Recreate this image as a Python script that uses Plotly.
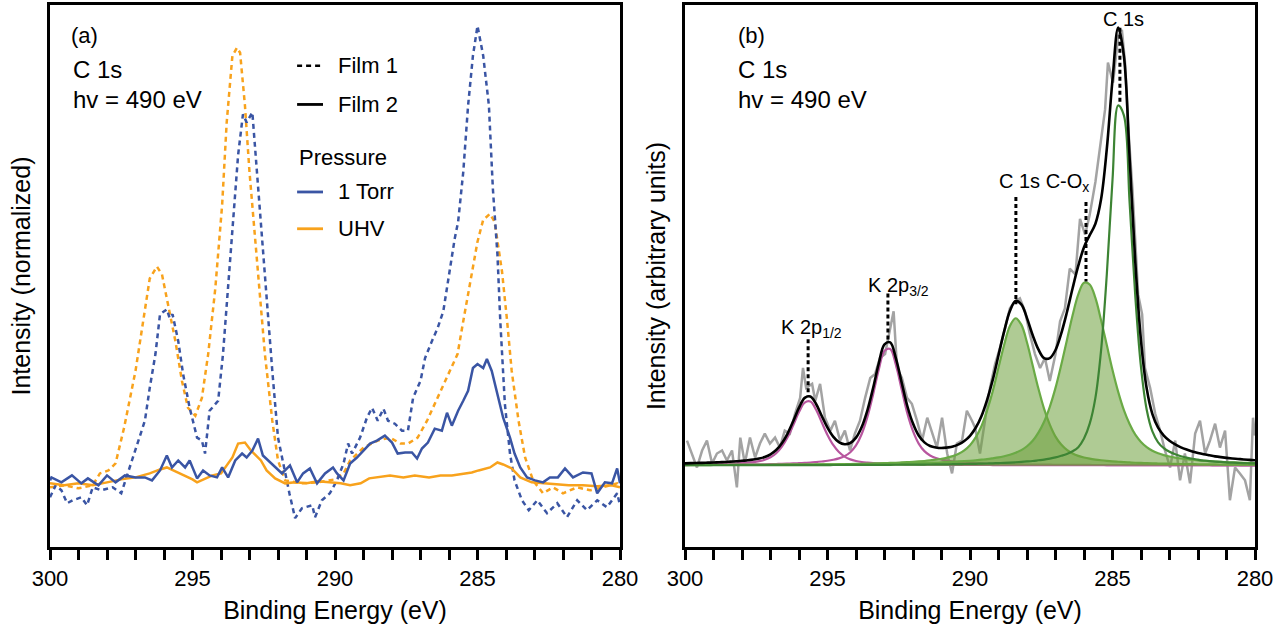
import plotly.graph_objects as go
from plotly.subplots import make_subplots

# ---------------- Panel (a) data: binding energy (eV) / intensity ----------------
film1_uhv_E = [300.0, 299.5, 299.0, 298.5, 298.25, 297.95, 297.7, 297.4, 297.0, 296.74, 296.5, 296.25,
               296.07, 295.86, 295.6, 295.37, 295.16, 294.9, 294.67, 294.45, 294.2, 293.96, 293.8, 293.6,
               293.44, 293.33, 293.16, 293.0, 292.8, 292.6, 292.46, 292.2, 292.0, 291.75, 291.2, 290.6,
               290.0, 289.7, 289.47, 289.0, 288.5, 288.07, 287.7, 287.44, 287.1, 286.77, 286.4, 286.07,
               285.7, 285.5, 285.26, 285.0, 284.8, 284.56, 284.4, 284.14, 283.96, 283.8, 283.56, 283.33,
               283.05, 282.7, 282.35, 282.0, 281.5, 281.05, 280.6, 280.1, 280.0]
film1_uhv_I = [58, 60, 57, 60, 72, 75, 82, 118, 175, 225, 268, 280,
               272, 242, 205, 165, 138, 130, 148, 192, 258, 342, 425, 492,
               500, 495, 442, 375, 308, 242, 192, 125, 85, 65, 62, 63,
               66, 72, 85, 98, 105, 108, 102, 102, 108, 125, 148, 168,
               192, 225, 265, 305, 327, 333, 325, 275, 225, 175, 125, 88,
               65, 52, 58, 52, 58, 55, 58, 62, 60]

film1_torr_E = [300.0, 299.8, 299.6, 299.4, 299.2, 298.9, 298.7, 298.5, 298.2, 297.8, 297.5, 297.2,
                296.9, 296.67, 296.5, 296.3, 296.14, 295.9, 295.8, 295.7, 295.5, 295.33, 295.1, 294.84,
                294.67, 294.56, 294.4, 294.1, 293.93, 293.75, 293.58, 293.4, 293.23, 293.1, 292.9, 292.74,
                292.56, 292.4, 292.2, 292.0, 291.8, 291.6, 291.4, 291.16, 290.8, 290.7, 290.46, 290.18,
                289.93, 289.7, 289.54, 289.4, 289.12, 288.88, 288.7, 288.5, 288.3, 288.14, 287.9, 287.65,
                287.44, 287.26, 287.0, 286.84, 286.6, 286.4, 286.2, 286.04, 285.8, 285.68, 285.5, 285.33,
                285.16, 285.0, 284.8, 284.6, 284.46, 284.3, 284.2, 284.04, 283.86, 283.7, 283.44, 283.2,
                282.9, 282.56, 282.2, 281.86, 281.5, 281.16, 280.8, 280.46, 280.1, 280.0]
film1_torr_I = [48, 60, 55, 42, 45, 48, 40, 58, 55, 58, 52, 78,
                105, 125, 158, 192, 232, 237, 228, 232, 205, 172, 138, 108,
                105, 92, 135, 145, 192, 258, 325, 392, 433, 425, 435, 375,
                308, 242, 175, 108, 78, 52, 27, 37, 40, 28, 45, 52,
                65, 82, 102, 92, 108, 128, 138, 125, 137, 125, 122, 115,
                115, 148, 165, 188, 205, 218, 235, 265, 308, 325, 375, 442,
                492, 522, 492, 442, 358, 292, 225, 142, 92, 65, 45, 35,
                45, 32, 42, 28, 45, 35, 45, 38, 52, 40]

film2_torr_E = [300.0, 299.95, 299.6, 299.23, 298.9, 298.67, 298.3, 298.0, 297.7, 297.37, 297.0, 296.67,
                296.42, 296.14, 295.9, 295.72, 295.5, 295.26, 295.1, 294.84, 294.63, 294.4, 294.14, 293.96,
                293.75, 293.5, 293.26, 293.1, 292.9, 292.7, 292.53, 292.35, 292.1, 291.86, 291.58, 291.33,
                291.12, 290.88, 290.63, 290.35, 290.07, 289.93, 289.7, 289.47, 289.23, 289.0, 288.77, 288.53,
                288.25, 288.0, 287.8, 287.54, 287.3, 287.12, 286.95, 286.74, 286.5, 286.25, 286.07, 285.9,
                285.68, 285.5, 285.33, 285.16, 285.0, 284.8, 284.67, 284.5, 284.3, 284.1, 283.86, 283.7,
                283.5, 283.26, 282.98, 282.7, 282.46, 282.18, 281.93, 281.65, 281.3, 281.0, 280.8, 280.53,
                280.28, 280.1, 280.0]
film2_torr_I = [65, 68, 63, 70, 62, 67, 60, 70, 63, 70, 68, 68,
                65, 75, 90, 78, 85, 78, 85, 67, 75, 70, 68, 78,
                68, 85, 92, 88, 95, 107, 90, 85, 78, 72, 80, 63,
                72, 77, 62, 72, 78, 72, 65, 82, 88, 95, 102, 105,
                110, 103, 92, 93, 93, 87, 97, 103, 117, 115, 133, 120,
                135, 145, 155, 178, 182, 178, 187, 175, 152, 128, 108, 92,
                78, 68, 65, 63, 68, 68, 77, 68, 73, 72, 52, 63,
                62, 77, 62]

film2_uhv_E = [300.0, 299.5, 299.0, 298.5, 298.0, 297.5, 297.0, 296.5, 296.14, 295.9, 295.6, 295.3,
               295.0, 294.84, 294.6, 294.3, 294.0, 293.75, 293.6, 293.4, 293.16, 292.95, 292.6, 292.4,
               292.1, 291.75, 291.4, 291.0, 290.6, 290.2, 289.8, 289.47, 289.1, 288.8, 288.5, 288.07,
               287.6, 287.2, 286.7, 286.3, 285.9, 285.5, 285.2, 284.96, 284.7, 284.56, 284.3, 284.1,
               283.8, 283.5, 283.1, 282.7, 282.3, 281.8, 281.3, 280.8, 280.3, 280.0]
film2_uhv_I = [62, 60, 62, 60, 63, 66, 68, 72, 76, 78, 74, 70,
               66, 63, 66, 70, 72, 82, 88, 102, 103, 95, 85, 75,
               67, 62, 63, 62, 64, 63, 62, 60, 62, 67, 68, 70,
               68, 70, 68, 70, 70, 72, 73, 75, 77, 78, 83, 81,
               77, 68, 63, 62, 61, 60, 60, 59, 60, 58]

# ---------------- Panel (b) data ----------------
raw_E = [299.93, 299.76, 299.58, 299.4, 299.23, 299.05, 298.88, 298.7, 298.53, 298.35, 298.18, 298.06,
         297.9, 297.72, 297.54, 297.37, 297.2, 297.02, 296.84, 296.67, 296.5, 296.32, 296.14, 295.96,
         295.86, 295.75, 295.54, 295.43, 295.26, 295.09, 294.9, 294.74, 294.56, 294.39, 294.21, 294.04,
         293.86, 293.68, 293.5, 293.33, 293.16, 292.98, 292.8, 292.68, 292.56, 292.39, 292.21, 292.04,
         291.86, 291.68, 291.5, 291.33, 291.16, 290.98, 290.8, 290.63, 290.46, 290.28, 290.11, 289.93,
         289.82, 289.65, 289.47, 289.3, 289.12, 288.95, 288.77, 288.6, 288.42, 288.25, 288.07, 287.9,
         287.72, 287.54, 287.37, 287.2, 287.0, 286.84, 286.67, 286.5, 286.3, 286.14, 285.96, 285.8,
         285.6, 285.44, 285.26, 285.16, 284.98, 284.8, 284.67, 284.56, 284.46, 284.3, 284.2, 284.1,
         283.96, 283.86, 283.68, 283.5, 283.33, 283.16, 282.98, 282.8, 282.63, 282.46, 282.28, 282.1,
         281.93, 281.75, 281.58, 281.4, 281.23, 281.05, 280.88, 280.7, 280.53, 280.35, 280.18, 280.07, 280.0]
raw_I = [25, 12, -2, 15, 25, 2, 12, 15, 5, 15, -22, 28,
         2, 28, 8, 22, 32, 22, 28, 18, 35, 32, 52, 68,
         98, 78, 82, 65, 82, 48, 35, 45, 25, 35, 15, 32,
         45, 68, 88, 92, 108, 112, 138, 155, 98, 88, 68, 62,
         45, 25, 48, 32, 18, 48, 12, -8, 22, 25, 55, 45,
         38, 12, 45, 78, 102, 118, 138, 158, 165, 168, 155, 132,
         112, 98, 108, 85, 112, 145, 158, 198, 192, 248, 232, 252,
         285, 318, 358, 405, 385, 432, 438, 405, 345, 278, 228, 172,
         152, 98, 78, 52, 35, 15, -2, 25, -15, 12, -18, 32,
         45, 12, 25, 42, 18, 35, -35, -2, -8, -15, -35, 48, 30]

# fit grid: 300.0 eV down to 280.0 eV in 0.2 eV steps
fit_E = [round(300.0 - 0.2 * i, 1) for i in range(101)]

k2p12 = [0.7, 0.8, 0.9, 1.0, 1.1, 1.2, 1.4, 1.5, 1.8, 2.0,
         2.4, 2.8, 3.4, 4.3, 5.7, 8.2, 12.3, 19.0, 28.4, 40.7,
         53.7, 63.2, 64.2, 56.0, 43.2, 30.7, 20.6, 13.5, 8.9, 6.1,
         4.5, 3.5, 2.9, 2.4, 2.1, 1.8, 1.6, 1.4, 1.2, 1.1,
         1.0, 0.9, 0.9, 0.8, 0.8, 0.7, 0.7, 0.6, 0.6, 0.6,
         0.5, 0.5, 0.5, 0.5, 0.4, 0.4, 0.4, 0.4, 0.4, 0.4,
         0.3, 0.3, 0.3, 0.3, 0.3, 0.3, 0.3, 0.3, 0.3, 0.3,
         0.3, 0.3, 0.2, 0.2, 0.2, 0.2, 0.2, 0.2, 0.2, 0.2,
         0.2, 0.2, 0.2, 0.2, 0.2, 0.2, 0.2, 0.2, 0.2, 0.2,
         0.2, 0.2, 0.2, 0.1, 0.1, 0.1, 0.1, 0.1, 0.1, 0.1, 0.1]
k2p32 = [0.4, 0.47, 0.5, 0.52, 0.56, 0.6, 0.65, 0.7, 0.75, 0.8,
         0.9, 0.93, 1.0, 1.1, 1.2, 1.3, 1.45, 1.6, 1.8, 2.0,
         2.3, 2.6, 2.9, 3.4, 4.0, 4.7, 5.7, 7.1, 9.4, 13.3,
         20.1, 31.6, 48.8, 71.4, 96.4, 115.4, 117.2, 101.0, 76.8, 52.5,
         34.5, 22.0, 14.4, 10.0, 7.5, 5.9, 4.9, 4.1, 3.5, 3.0,
         2.6, 2.3, 2.0, 1.85, 1.6, 1.5, 1.35, 1.25, 1.1, 1.0,
         0.95, 0.9, 0.85, 0.8, 0.75, 0.7, 0.65, 0.6, 0.57, 0.54,
         0.5, 0.48, 0.46, 0.44, 0.42, 0.4, 0.38, 0.36, 0.35, 0.34,
         0.33, 0.32, 0.31, 0.3, 0.29, 0.28, 0.27, 0.26, 0.25, 0.24,
         0.23, 0.22, 0.21, 0.2, 0.2, 0.19, 0.19, 0.18, 0.17, 0.16, 0.15]
c1s_co = [0.37, 0.38, 0.39, 0.40, 0.42, 0.43, 0.45, 0.46, 0.48, 0.51,
          0.54, 0.56, 0.58, 0.61, 0.64, 0.67, 0.7, 0.73, 0.77, 0.81,
          0.85, 0.9, 0.95, 1.0, 1.06, 1.12, 1.2, 1.27, 1.36, 1.45,
          1.55, 1.67, 1.8, 1.95, 2.1, 2.3, 2.5, 2.7, 3.0, 3.3,
          3.6, 4.0, 4.5, 5.1, 5.8, 6.7, 7.9, 9.4, 11.7, 15.2,
          20.4, 28.2, 39.4, 55.3, 74.9, 98.4, 121.4, 140.2, 148.0, 141.6,
          123.6, 100.4, 77.3, 56.9, 41.0, 29.0, 21.0, 15.6, 12.0, 9.6,
          8.0, 6.8, 5.9, 5.2, 4.6, 4.1, 3.7, 3.3, 3.0, 2.7,
          2.5, 2.3, 2.1, 1.95, 1.8, 1.7, 1.55, 1.45, 1.35, 1.27,
          1.2, 1.13, 1.07, 1.0, 0.95, 0.9, 0.86, 0.82, 0.78, 0.74, 0.7]
c1s_cox = [0.47, 0.48, 0.5, 0.51, 0.52, 0.54, 0.55, 0.57, 0.59, 0.6,
           0.62, 0.64, 0.66, 0.68, 0.7, 0.73, 0.75, 0.78, 0.81, 0.84,
           0.87, 0.9, 0.93, 0.97, 1.0, 1.05, 1.09, 1.14, 1.19, 1.24,
           1.3, 1.35, 1.42, 1.5, 1.57, 1.65, 1.75, 1.85, 1.95, 2.1,
           2.2, 2.35, 2.5, 2.7, 2.9, 3.1, 3.4, 3.65, 4.0, 4.35,
           4.75, 5.2, 5.8, 6.4, 7.2, 8.1, 9.3, 10.7, 12.7, 15.4,
           19.3, 24.8, 33.0, 44.0, 59.0, 78.0, 101.0, 126.0, 151.0, 172.0,
           183.7, 182.0, 168.5, 146.0, 121.0, 96.0, 74.0, 55.6, 41.7, 31.0,
           23.7, 18.5, 14.8, 12.2, 10.4, 9.0, 7.9, 7.0, 6.3, 5.7,
           5.1, 4.7, 4.3, 3.95, 3.6, 3.35, 3.1, 2.9, 2.7, 2.5, 2.35]
c1s_main = [0.19, 0.19, 0.2, 0.2, 0.21, 0.21, 0.22, 0.22, 0.23, 0.24,
            0.25, 0.25, 0.26, 0.27, 0.28, 0.29, 0.3, 0.31, 0.32, 0.33,
            0.35, 0.36, 0.37, 0.39, 0.4, 0.42, 0.43, 0.45, 0.47, 0.49,
            0.51, 0.53, 0.56, 0.58, 0.61, 0.64, 0.67, 0.7, 0.74, 0.78,
            0.82, 0.87, 0.92, 0.97, 1.03, 1.1, 1.17, 1.25, 1.35, 1.45,
            1.55, 1.68, 1.82, 1.98, 2.16, 2.38, 2.6, 2.88, 3.2, 3.57,
            4.0, 4.5, 5.2, 5.9, 6.9, 8.1, 9.7, 11.6, 14.3, 18.4,
            27.0, 42.0, 68.0, 116.0, 192.0, 287.0, 362.0, 352.0, 264.4, 170.1,
            98.8, 56.0, 34.2, 23.3, 17.4, 13.7, 11.2, 9.3, 7.9, 6.7,
            5.8, 5.0, 4.4, 3.9, 3.5, 3.1, 2.8, 2.55, 2.3, 2.15, 2.0]
envelope = [a + b + c + d + e for a, b, c, d, e in zip(k2p12, k2p32, c1s_co, c1s_cox, c1s_main)]

# peak markers (label positions in eV)
peak_E = {"K12": 295.68, "K32": 292.88, "CO": 288.39, "COX": 285.93, "C1s": 284.74}

# ---------------- styles ----------------
BLUE = "#3a55a4"
ORANGE = "#f8a21c"
MAGENTA = "#b8569f"
LGREEN = "#6aaa45"
DGREEN = "#3d8434"
GFILL = "rgba(110,160,60,0.55)"
GRAY = "#a3a3a3"
FONT = "Liberation Sans, Arial, sans-serif"
DASH = "5px,4px"

fig = make_subplots(rows=1, cols=2)

fig.add_trace(go.Scatter(x=film1_uhv_E, y=film1_uhv_I, mode="lines",
                         line=dict(color=ORANGE, width=2.5, dash=DASH)), 1, 1)
fig.add_trace(go.Scatter(x=film1_torr_E, y=film1_torr_I, mode="lines",
                         line=dict(color=BLUE, width=2.5, dash=DASH)), 1, 1)
fig.add_trace(go.Scatter(x=film2_uhv_E, y=film2_uhv_I, mode="lines",
                         line=dict(color=ORANGE, width=2.5)), 1, 1)
fig.add_trace(go.Scatter(x=film2_torr_E, y=film2_torr_I, mode="lines",
                         line=dict(color=BLUE, width=2.5)), 1, 1)

# panel b
fig.add_trace(go.Scatter(x=raw_E, y=raw_I, mode="lines",
                         line=dict(color=GRAY, width=2.5)), 1, 2)
fig.add_trace(go.Scatter(x=fit_E, y=k2p12, mode="lines", line_shape="spline",
                         line=dict(color=MAGENTA, width=2.2)), 1, 2)
fig.add_trace(go.Scatter(x=fit_E, y=k2p32, mode="lines", line_shape="spline",
                         line=dict(color=MAGENTA, width=2.2)), 1, 2)
fig.add_trace(go.Scatter(x=fit_E, y=c1s_co, mode="lines", line_shape="spline", fill="tozeroy",
                         fillcolor=GFILL, line=dict(color=LGREEN, width=2.2)), 1, 2)
fig.add_trace(go.Scatter(x=fit_E, y=c1s_cox, mode="lines", line_shape="spline", fill="tozeroy",
                         fillcolor=GFILL, line=dict(color=LGREEN, width=2.2)), 1, 2)
fig.add_trace(go.Scatter(x=fit_E, y=c1s_main, mode="lines", line_shape="spline",
                         line=dict(color=DGREEN, width=2.2)), 1, 2)
fig.add_trace(go.Scatter(x=fit_E, y=envelope, mode="lines", line_shape="spline",
                         line=dict(color="black", width=2.6)), 1, 2)

axis_common = dict(showline=True, linecolor="black", linewidth=2.5, mirror=True,
                   showgrid=False, zeroline=False)
xaxis_style = dict(axis_common, range=[300, 280], tick0=280, dtick=5, ticks="outside",
                   ticklen=10, tickwidth=2.5, tickcolor="black",
                   tickfont=dict(size=22, color="black", family=FONT),
                   minor=dict(dtick=1, ticks="outside", ticklen=10, tickwidth=2.5, tickcolor="black"),
                   title=dict(text="Binding Energy (eV)", font=dict(size=25, color="black", family=FONT),
                              standoff=12))
fig.update_xaxes(**xaxis_style)
fig.update_layout(
    xaxis=dict(domain=[0, 570 / 1205]),
    xaxis2=dict(domain=[635 / 1205, 1]),
    yaxis=dict(axis_common, range=[-2, 543], showticklabels=False, ticks="",
               title=dict(text="Intensity (normalized)", font=dict(size=25, color="black", family=FONT),
                          standoff=10)),
    yaxis2=dict(axis_common, range=[-82, 463], showticklabels=False, ticks="",
                title=dict(text="Intensity (arbitrary units)", font=dict(size=25, color="black", family=FONT),
                           standoff=10)),
    width=1277, height=628, showlegend=False,
    margin=dict(l=50, r=22, t=2, b=81),
    plot_bgcolor="white", paper_bgcolor="white",
    font=dict(family=FONT, color="black"),
)

ann = []
def text(x, y, s, ref, size=22, xanchor="left"):
    ann.append(dict(x=x, y=y, xref="x" if ref == 1 else "x2", yref="y" if ref == 1 else "y2",
                    text=s, showarrow=False, xanchor=xanchor, yanchor="middle",
                    font=dict(size=size, color="black", family=FONT)))

# panel a texts
text(299.35, 512, "(a)", 1, 22)
text(299.25, 478, "C 1s", 1, 24)
text(299.25, 448, "hv = 490 eV", 1, 24)
text(289.95, 482, "Film 1", 1, 22)
text(289.95, 443, "Film 2", 1, 22)
text(291.35, 390, "Pressure", 1, 22)
text(289.95, 355, "1 Torr", 1, 22)
text(289.95, 318, "UHV", 1, 22)
# panel b texts
text(298.2, 432, "(b)", 2, 22)
text(298.2, 398, "C 1s", 2, 24)
text(298.2, 368, "hv = 490 eV", 2, 24)
text(296.7, 138, "K 2p<sub>1/2</sub>", 2, 20)
text(293.65, 180, "K 2p<sub>3/2</sub>", 2, 20)
text(289.05, 285, "C 1s C-O<sub>x</sub>", 2, 20)
text(284.62, 449, "C 1s", 2, 20, xanchor="center")
fig.update_layout(annotations=ann)

shapes = []
# legend samples (panel a)
shapes.append(dict(type="line", xref="x", yref="y", x0=291.33, x1=290.42, y0=482, y1=482,
                   line=dict(color="black", width=2.5, dash=DASH)))
shapes.append(dict(type="line", xref="x", yref="y", x0=291.33, x1=290.42, y0=443, y1=443,
                   line=dict(color="black", width=2.8)))
shapes.append(dict(type="line", xref="x", yref="y", x0=291.33, x1=290.42, y0=355, y1=355,
                   line=dict(color=BLUE, width=2.8)))
shapes.append(dict(type="line", xref="x", yref="y", x0=291.33, x1=290.42, y0=318, y1=318,
                   line=dict(color=ORANGE, width=2.8)))
# peak marker dotted lines (panel b)
for key, y0, y1 in [("K12", 127, 70), ("K32", 173, 125), ("CO", 270, 162), ("COX", 265, 185), ("C1s", 440, 365)]:
    shapes.append(dict(type="line", xref="x2", yref="y2", x0=peak_E[key], x1=peak_E[key], y0=y0, y1=y1,
                       line=dict(color="black", width=3, dash="4px,3px")))
fig.update_layout(shapes=shapes)

fig.write_html("out.html")
